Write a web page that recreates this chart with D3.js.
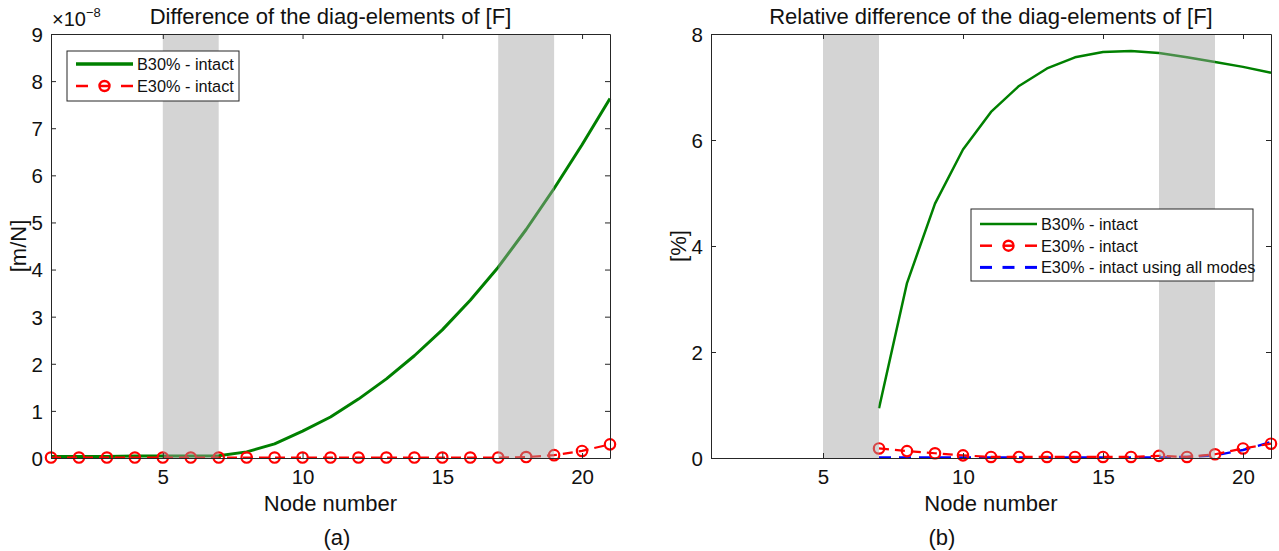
<!DOCTYPE html>
<html>
<head>
<meta charset="utf-8">
<script src="https://cdn.jsdelivr.net/npm/d3@7"></script>
<style>
  body { margin: 0; background: #fff; }
  svg { display: block; font-family: "Liberation Sans", Arial, sans-serif; }
</style>
</head>
<body>
<svg id="fig" width="1279" height="551"></svg>
<script>
// Node numbers along the beam
const nodes = d3.range(1, 22);

// (a) absolute difference of the diagonal flexibility terms, in units of 1e-8 m/N
const diffB30 = [0.03, 0.03, 0.03, 0.04, 0.04, 0.04, 0.05, 0.13, 0.30, 0.57, 0.87,
                 1.25, 1.68, 2.17, 2.72, 3.35, 4.05, 4.85, 5.72, 6.65, 7.63];
const diffE30 = [0.01, 0.01, 0.01, 0.01, 0.01, 0.01, 0.01, 0.01, 0.01, 0.01, 0.01,
                 0.01, 0.01, 0.01, 0.01, 0.01, 0.01, 0.02, 0.06, 0.15, 0.29];

// (b) relative difference in percent, available from node 7 onwards
const relNodes = d3.range(7, 22);
const relB30 = [0.94, 3.30, 4.80, 5.82, 6.53, 7.02, 7.35, 7.56, 7.66, 7.68,
                7.64, 7.56, 7.47, 7.38, 7.27];
const relE30 = [0.18, 0.13, 0.09, 0.05, 0.02, 0.02, 0.02, 0.02, 0.02, 0.02,
                0.04, 0.02, 0.07, 0.18, 0.27];
const relE30All = [0.01, 0.01, 0.01, 0.01, 0.01, 0.01, 0.01, 0.01, 0.01, 0.01,
                   0.01, 0.02, 0.05, 0.15, 0.30];

// Shaded node ranges
const bands = [[5, 7], [17, 19]];

const xTicks = [5, 10, 15, 20];
const yTicksA = d3.range(0, 10);
const yTicksB = [0, 2, 4, 6, 8];

const titles = ["Difference of the diag-elements of [F]",
                "Relative difference of the diag-elements of [F]"];
const yLabels = ["[m/N]", "[%]"];
const captions = ["(a)", "(b)"];

const AX = "#262626";
const GREEN = "#008000";
const RED = "#ff0000";
const BLUE = "#0000ff";

const svg = d3.select("#fig");

function panel(opt) {
  const x = d3.scaleLinear().domain([1, 21]).range([opt.left, opt.right]);
  const y = d3.scaleLinear().domain(opt.yDomain).range([458, 34]);
  const g = svg.append("g");

  const plot = g.append("g");
  const line = d3.line().x(d => x(d[0])).y(d => y(d[1]));

  opt.series.forEach(s => {
    const pts = s.xs.map((n, i) => [n, s.ys[i]]);
    plot.append("path").datum(pts)
      .attr("d", line).attr("fill", "none")
      .attr("stroke", s.color).attr("stroke-width", s.width)
      .attr("stroke-dasharray", s.dash || null)
      .attr("stroke-linejoin", "round");
    if (s.marker) {
      plot.selectAll(null).data(pts).join("circle")
        .attr("cx", d => x(d[0])).attr("cy", d => y(d[1]))
        .attr("r", 5.2).attr("fill", "none")
        .attr("stroke", s.color).attr("stroke-width", 2.2);
    }
  });

  // translucent shading over the selected node ranges
  g.selectAll(null).data(bands).join("rect")
    .attr("x", d => x(d[0])).attr("y", y.range()[1])
    .attr("width", d => x(d[1]) - x(d[0]))
    .attr("height", y.range()[0] - y.range()[1])
    .attr("fill", "#a0a0a0").attr("fill-opacity", 0.45);

  // axes box with mirrored inward ticks
  const fmt = d3.format("d");
  const bottom = g.append("g").attr("transform", `translate(0,${y.range()[0]})`)
    .call(d3.axisBottom(x).tickValues(xTicks).tickSizeInner(-5).tickSizeOuter(0).tickPadding(11).tickFormat(fmt));
  const top = g.append("g").attr("transform", `translate(0,${y.range()[1]})`)
    .call(d3.axisTop(x).tickValues(xTicks).tickSizeInner(-5).tickSizeOuter(0).tickFormat(""));
  const leftAx = g.append("g").attr("transform", `translate(${opt.left},0)`)
    .call(d3.axisLeft(y).tickValues(opt.yTicks).tickSizeInner(-5).tickSizeOuter(0).tickPadding(8).tickFormat(fmt));
  const rightAx = g.append("g").attr("transform", `translate(${opt.right},0)`)
    .call(d3.axisRight(y).tickValues(opt.yTicks).tickSizeInner(-5).tickSizeOuter(0).tickFormat(""));
  [bottom, top, leftAx, rightAx].forEach(a => {
    a.select(".domain").attr("stroke", AX).attr("stroke-width", 1);
    a.selectAll(".tick line").attr("stroke", AX).attr("stroke-width", 1);
    a.selectAll(".tick text").attr("fill", "#111").attr("font-size", 20.5)
      .attr("font-family", "Liberation Sans, Arial, sans-serif");
  });
  leftAx.selectAll(".tick text").attr("dy", "0.36em");

  const cx = (opt.left + opt.right) / 2;
  g.append("text").attr("x", cx).attr("y", 24).attr("text-anchor", "middle")
    .attr("font-size", 22).attr("fill", "#111").text(opt.title);
  g.append("text").attr("x", cx).attr("y", 511).attr("text-anchor", "middle")
    .attr("font-size", 22).attr("fill", "#111").text("Node number");
  g.append("text").attr("transform", `translate(${opt.yLabelX},246) rotate(-90)`)
    .attr("text-anchor", "middle").attr("font-size", 22).attr("fill", "#111").text(opt.yLabel);
  g.append("text").attr("x", opt.captionX).attr("y", 545).attr("text-anchor", "middle")
    .attr("font-size", 22).attr("fill", "#111").text(opt.caption);

  // legend
  const L = opt.legend;
  const lg = g.append("g");
  lg.append("rect").attr("x", L.x).attr("y", L.y).attr("width", L.w).attr("height", L.h)
    .attr("fill", "#fff").attr("stroke", AX).attr("stroke-width", 1);
  L.items.forEach((s, i) => {
    const yy = L.y + L.first + i * L.step;
    const segs = s.legendSegs || [[9, 66]];
    segs.forEach(([a, b]) => {
      lg.append("line").attr("x1", L.x + a).attr("x2", L.x + b).attr("y1", yy).attr("y2", yy)
        .attr("stroke", s.color).attr("stroke-width", s.width);
    });
    if (s.marker) {
      lg.append("circle").attr("cx", L.x + 37.5).attr("cy", yy).attr("r", 5)
        .attr("fill", "none").attr("stroke", s.color).attr("stroke-width", 2.4);
    }
    lg.append("text").attr("x", L.x + 70).attr("y", yy).attr("dy", "0.36em")
      .attr("font-size", 16.3).attr("fill", "#111").text(s.label);
  });
  return { x, y, g };
}

const sB = { label: "B30% - intact", color: GREEN };
const sE = { label: "E30% - intact", color: RED, marker: true, dash: "10,6",
             legendSegs: [[9, 21], [33, 42], [54, 66]] };
const sAll = { label: "E30% - intact using all modes", color: BLUE, dash: "12,8",
               legendSegs: [[9, 21], [31.5, 43.5], [54, 66]] };

const pa = panel({
  left: 51, right: 610, yDomain: [0, 9], yTicks: yTicksA,
  title: titles[0], yLabel: yLabels[0], yLabelX: 26, caption: captions[0], captionX: 337,
  series: [
    Object.assign({}, sB, { xs: nodes, ys: diffB30, width: 3 }),
    Object.assign({}, sE, { xs: nodes, ys: diffE30, width: 2.2 })
  ],
  legend: { x: 67, y: 51, w: 172, h: 50, first: 13, step: 22,
    items: [Object.assign({}, sB, { width: 3.5 }), Object.assign({}, sE, { width: 2.5 })] }
});

// power-of-ten multiplier for panel (a)
const ex = pa.g.append("text").attr("x", 52).attr("y", 26).attr("font-size", 20).attr("fill", "#111");
ex.append("tspan").text("\u00d710");
ex.append("tspan").attr("dy", -9).attr("font-size", 13).text("\u22128");

panel({
  left: 711, right: 1271, yDomain: [0, 8], yTicks: yTicksB,
  title: titles[1], yLabel: yLabels[1], yLabelX: 686, caption: captions[1], captionX: 942,
  series: [
    Object.assign({}, sB, { xs: relNodes, ys: relB30, width: 2.5 }),
    Object.assign({}, sAll, { xs: relNodes, ys: relE30All, width: 2.5 }),
    Object.assign({}, sE, { xs: relNodes, ys: relE30, width: 2.2 })
  ],
  legend: { x: 971, y: 209, w: 282, h: 72, first: 15, step: 21.7,
    items: [Object.assign({}, sB, { width: 2.5 }), Object.assign({}, sE, { width: 2.5 }),
            Object.assign({}, sAll, { width: 3 })] }
});
</script>
</body>
</html>
